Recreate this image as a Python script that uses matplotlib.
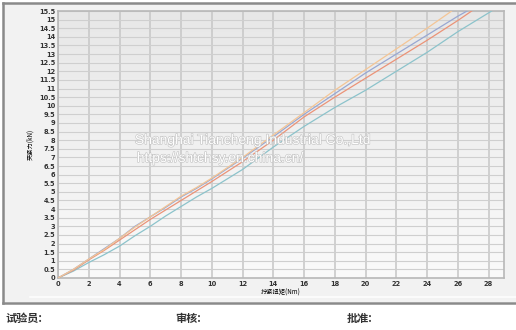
import matplotlib.pyplot as plt
import matplotlib.patheffects as pe
from matplotlib.patches import Rectangle
from matplotlib.lines import Line2D
import numpy as np

plt.rcParams['font.family'] = ['DejaVu Sans', 'Noto Sans CJK SC']

# --- data (torque Nm -> clamp force kN) ---
x_orange = [0, 1, 2, 3, 4, 5, 6, 7, 8, 9, 10, 12, 14, 16, 18, 20, 22, 24, 25.6]
y_orange = [0, 0.5, 1.1, 1.65, 2.3, 2.95, 3.55, 4.15, 4.75, 5.25, 5.8, 7.0, 8.3, 9.6, 10.9, 12.1, 13.3, 14.5, 15.5]

x_blue = [0, 1, 2, 3, 4, 5, 6, 7, 8, 9, 10, 12, 14, 16, 18, 20, 22, 24, 26, 26.6]
y_blue = [0, 0.5, 1.1, 1.7, 2.3, 3.0, 3.55, 4.1, 4.7, 5.2, 5.75, 6.95, 8.2, 9.5, 10.7, 11.9, 13.0, 14.1, 15.2, 15.5]

x_red = [0, 1, 2, 3, 4, 5, 6, 7, 8, 9, 10, 12, 14, 16, 18, 20, 22, 24, 26, 26.9]
y_red = [0, 0.45, 1.05, 1.6, 2.2, 2.8, 3.4, 3.95, 4.5, 5.05, 5.6, 6.75, 8.0, 9.35, 10.5, 11.6, 12.7, 13.8, 14.95, 15.5]

x_cyan = [0, 1, 2, 3, 4, 5, 6, 7, 8, 9, 10, 12, 14, 16, 18, 20, 22, 24, 26, 28.2]
y_cyan = [0, 0.4, 0.9, 1.35, 1.85, 2.45, 3.0, 3.6, 4.15, 4.7, 5.2, 6.3, 7.6, 8.8, 9.9, 10.9, 12.0, 13.1, 14.3, 15.5]

x_ticks = np.arange(0, 29, 2)
y_ticks = np.arange(0, 15.51, 0.5)

W, H = 516, 330
fig = plt.figure(figsize=(W / 100, H / 100), dpi=100, facecolor='white')

# outer panel + frame
fig.patches.append(Rectangle((4 / W, 1 - 302 / H), 1, 298 / H, transform=fig.transFigure,
                             facecolor='#f2f2f2', edgecolor='none', zorder=-10))
frame = dict(color='#8a8a8a', lw=1.8, transform=fig.transFigure, zorder=-5)
fig.add_artist(Line2D([3 / W, 1], [1 - 3 / H, 1 - 3 / H], **frame))
fig.add_artist(Line2D([3 / W, 3 / W], [1 - 3 / H, 1 - 303 / H], **frame))
fig.add_artist(Line2D([3 / W, 1], [1 - 303 / H, 1 - 303 / H], **frame))
fig.add_artist(Line2D([30 / W, 1], [1 - 297 / H, 1 - 297 / H], color='#fdfdfd', lw=1.2,
                      transform=fig.transFigure, zorder=-5))

ax = fig.add_axes([58 / W, 1 - 278 / H, (504 - 58) / W, (278 - 11) / H])
ax.set_zorder(1)
ax.set_facecolor('#ececec')
# soft vertical shading of the plot area, lighter towards the bottom
shade = np.linspace(0.905, 0.975, 64).reshape(-1, 1)
ax.imshow(shade, cmap='gray', vmin=0, vmax=1, origin='upper', aspect='auto',
          extent=[0, 29, 0, 15.5], zorder=0)

ax.plot(x_cyan, y_cyan, color='#8cc3cb', lw=0.9, zorder=3)
ax.plot(x_red, y_red, color='#eb9378', lw=0.9, zorder=3)
ax.plot(x_blue, y_blue, color='#98a7d2', lw=0.9, zorder=3)
ax.plot(x_orange, y_orange, color='#f4c595', lw=0.9, zorder=3)

ax.set_xlim(0, 29)
ax.set_ylim(0, 15.5)
ax.set_xticks(x_ticks)
ax.set_yticks(y_ticks)
ax.set_yticklabels([('%g' % v) for v in y_ticks])
ax.tick_params(labelsize=4.8, length=0, pad=2, colors='#333333')
for lab in ax.get_xticklabels() + ax.get_yticklabels():
    lab.set_fontweight('bold')
ax.grid(True, axis='y', color='#cfcfcf', lw=0.8, zorder=1)
ax.grid(True, axis='x', color='#c6c6c6', lw=1.1, zorder=1)
for s in ax.spines.values():
    s.set_color('#b8b8b8')
    s.set_linewidth(1.2)

ax.set_xlabel('拧紧扭矩(Nm)', fontsize=4.5, labelpad=1,
              family=['Noto Sans CJK SC', 'DejaVu Sans'])
ax.set_ylabel('夹紧力(kN)', fontsize=4.5, labelpad=3,
              family=['Noto Sans CJK SC', 'DejaVu Sans'])

# watermark
wm = [pe.withStroke(linewidth=0.9, foreground='#c4c4c4')]
fig.text(253 / W, 1 - 140 / H, 'Shanghai Tiancheng Industrial Co.,Ltd', ha='center', va='center',
         fontsize=10, color='white', family='Liberation Sans', path_effects=wm, zorder=10)
fig.text(220 / W, 1 - 158 / H, 'https://shtchsy.en.china.cn/', ha='center', va='center',
         fontsize=10, color='white', family='Liberation Sans', path_effects=wm, zorder=10)

# signature line
cjk = ['Noto Sans CJK SC', 'DejaVu Sans']
fig.text(5 / W, 1 - 318 / H, '试验员:', fontsize=8, color='#333333', va='center',
         family=cjk, fontweight='bold')
fig.text(175 / W, 1 - 318 / H, '审核:', fontsize=8, color='#333333', va='center',
         family=cjk, fontweight='bold')
fig.text(347 / W, 1 - 318 / H, '批准:', fontsize=8, color='#333333', va='center',
         family=cjk, fontweight='bold')

fig.savefig('out.png', dpi=100, facecolor='white')
